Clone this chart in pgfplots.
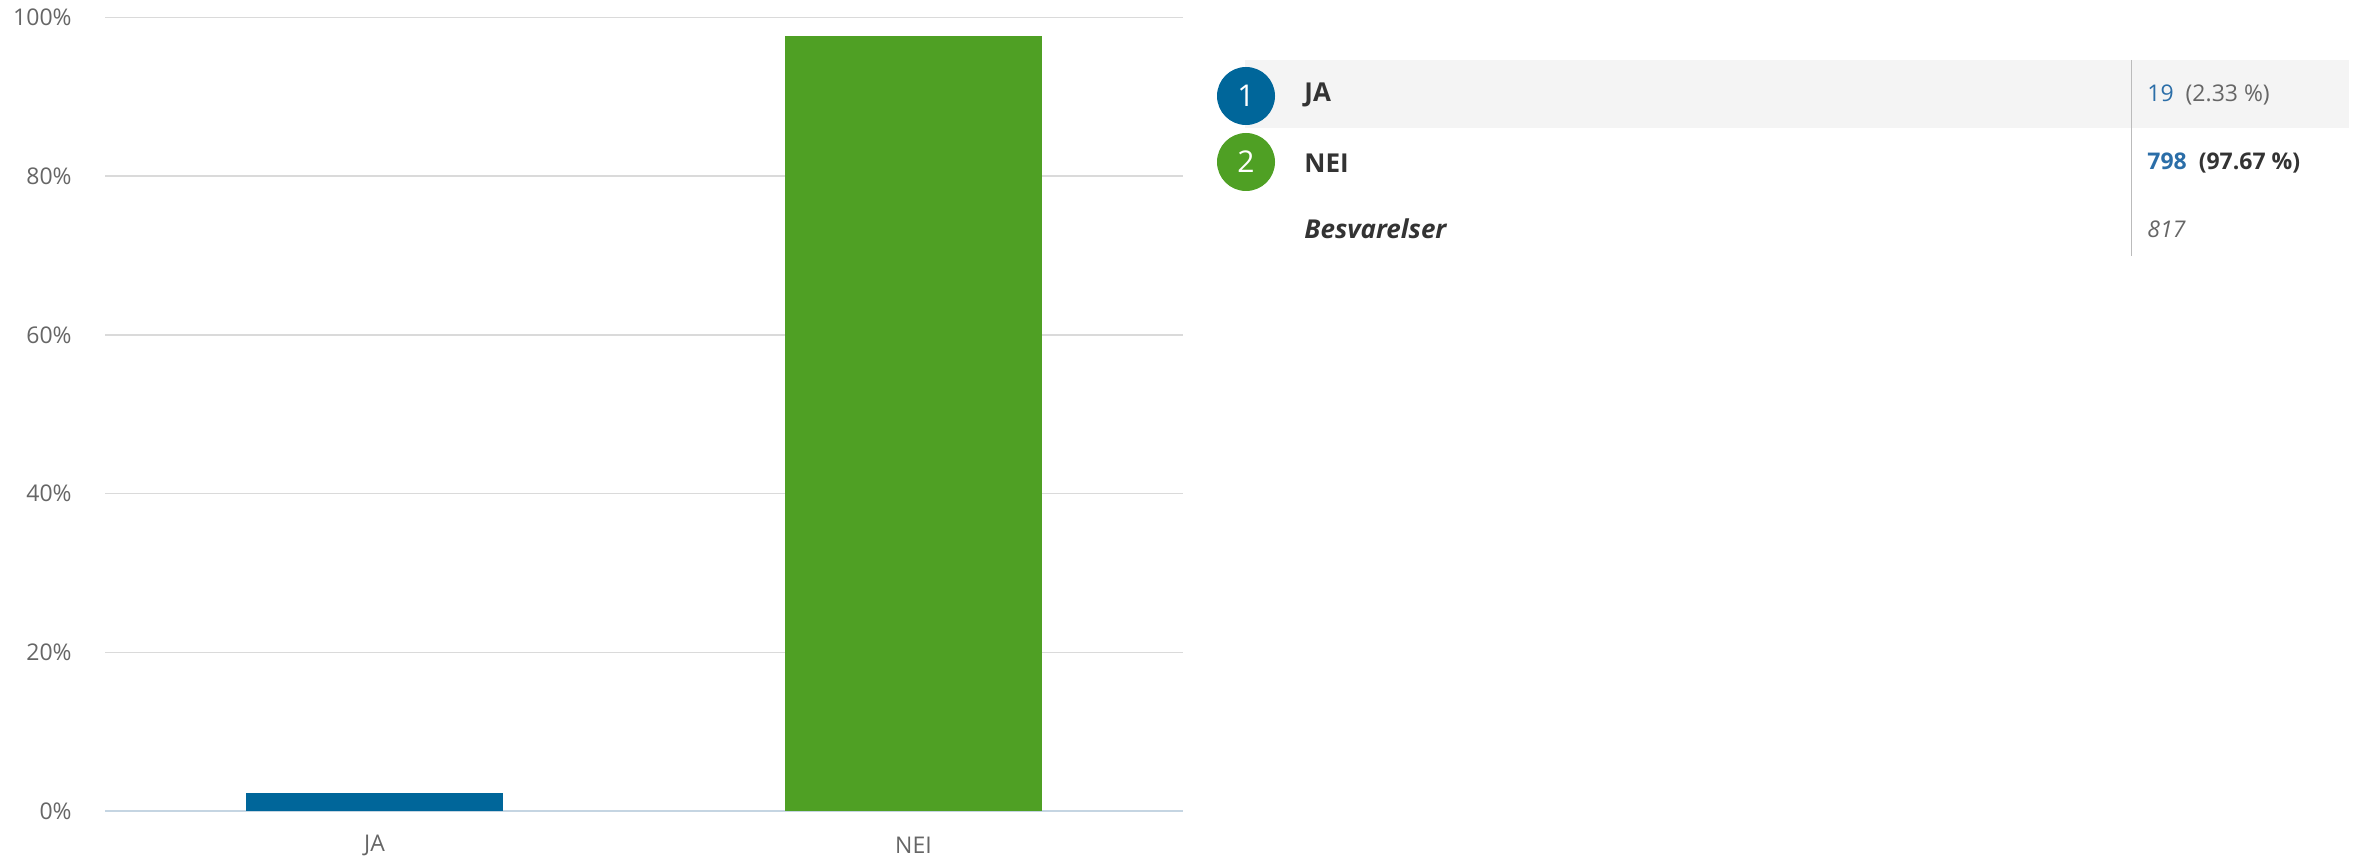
\documentclass[border=0pt]{standalone}
\usepackage{fontspec}
\setmainfont{Open Sans}
\usepackage{pgfplots}
\pgfplotsset{compat=1.18}

\definecolor{jablue}{HTML}{00669A}
\definecolor{neigreen}{HTML}{4FA024}
\definecolor{gridgray}{HTML}{DADADA}
\definecolor{axisblue}{HTML}{C5D5E2}
\definecolor{ticktext}{HTML}{666666}
\definecolor{labeltext}{HTML}{333333}
\definecolor{bandgray}{HTML}{F4F4F4}
\definecolor{sepgray}{HTML}{BBBBBB}
\definecolor{numblue}{HTML}{2B6EA8}

\begin{document}
\begin{tikzpicture}
% right-hand table, in pixels of the reference (0.5pt each, y downward)
\begin{scope}[x=0.5pt,y=-0.5pt]
\path[use as bounding box] (0,0) rectangle (2361,858);
\fill[bandgray] (1245,60) rectangle (2349,128);
\draw[sepgray, line width=0.5pt] (2131,60) -- (2131,256);
\fill[jablue] (1246,96) circle[radius=14.5pt];
\fill[neigreen] (1246,162) circle[radius=14.5pt];
\node[white, font=\fontsize{15}{18}\selectfont] at (1246,96) {1};
\node[white, font=\fontsize{15}{18}\selectfont] at (1246,162) {2};
\node[anchor=west, inner sep=0pt, labeltext, font=\fontsize{13}{16}\selectfont\bfseries] at (1304,95) {JA};
\node[anchor=west, inner sep=0pt, labeltext, font=\fontsize{13}{16}\selectfont\bfseries] at (1304,163) {NEI};
\node[anchor=west, inner sep=0pt, labeltext, font=\fontsize{13}{16}\selectfont\bfseries\itshape] at (1304,229) {Besvarelser};
\node[anchor=west, inner sep=0pt, font=\fontsize{11.5}{14}\selectfont] at (2147,95) {\textcolor{numblue}{19}\ \ \textcolor{ticktext}{(2.33 \%)}};
\node[anchor=west, inner sep=0pt, font=\fontsize{11.5}{14}\selectfont\bfseries] at (2147,163) {\textcolor{numblue}{798}\ \ \textcolor{labeltext}{(97.67 \%)}};
\node[anchor=west, inner sep=0pt, ticktext, font=\fontsize{11.5}{14}\selectfont\itshape] at (2147,229) {817};
\end{scope}

\begin{axis}[
    at={(52.5pt,-405.5pt)}, anchor=south west,
    width=539pt, height=396.75pt, scale only axis,
    xmin=-0.5, xmax=1.5, ymin=0, ymax=100,
    axis lines*=left,
    y axis line style={draw=none},
    x axis line style={-, draw=axisblue, line width=1pt},
    ytick={0,20,40,60,80,100},
    yticklabels={0\%,20\%,40\%,60\%,80\%,100\%},
    xtick={0,1},
    xticklabels={JA,NEI},
    ytick style={draw=none},
    xtick style={draw=none},
    extra x ticks={0.5,1.5},
    extra x tick labels={},
    extra x tick style={tick align=outside, major tick length=7.5pt,
        tick style={draw=axisblue, line width=0.6pt}},
    ymajorgrids,
    grid style={gridgray, line width=0.8pt},
    yticklabel style={anchor=east, inner sep=0pt, xshift=-16.5pt, ticktext,
        font=\fontsize{11.5}{14}\selectfont},
    xticklabel style={anchor=center, inner sep=0pt, yshift=-17pt, ticktext,
        font=\fontsize{11.5}{14}\selectfont},
    /pgf/number format/assume math mode=true,
]
\addplot[ybar, bar width=0.475, bar shift=0pt, fill=jablue, draw=none]
    coordinates {(0,2.33)};
\addplot[ybar, bar width=0.475, bar shift=0pt, fill=neigreen, draw=none]
    coordinates {(1,97.67)};
\end{axis}
\end{tikzpicture}
\end{document}
